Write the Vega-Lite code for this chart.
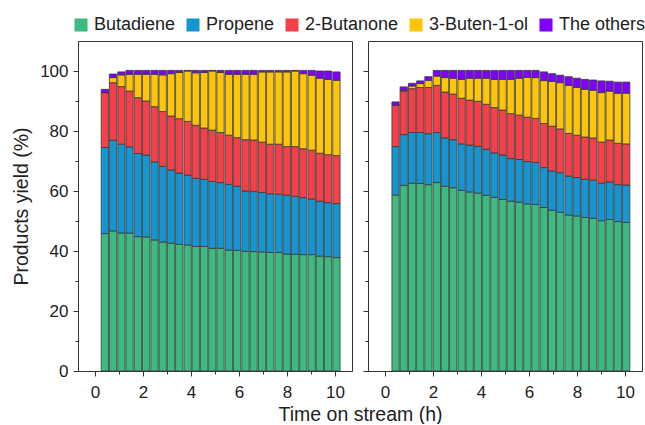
{
  "$schema": "https://vega.github.io/schema/vega-lite/v6.json",
  "padding": {"left": 10, "top": 15, "right": 3, "bottom": 0},
  "bounds": "flush",
  "spacing": 16,
  "resolve": {"legend": {"color": "independent"}},
  "config": {
    "font": "Liberation Sans",
    "view": {"stroke": "#333333", "strokeWidth": 1},
    "axis": {"domain": false, "grid": false, "tickColor": "#333333", "tickWidth": 1, "labelColor": "#222222", "labelFontSize": 17, "titleFontSize": 19.5, "titleFontWeight": "normal", "titleColor": "#222222"},
    "legend": {"title": null, "symbolType": "square", "symbolSize": 170, "symbolStrokeWidth": 0, "labelFontSize": 18, "labelColor": "#222222", "columnPadding": 8, "labelOffset": 4, "padding": 0}
  },
  "data": {"values": [
    {"panel": "a", "t": 0.41, "Butadiene": 45.8, "Propene": 28.7, "2-Butanone": 18.3, "3-Buten-1-ol": 0.0, "The others": 1.1},
    {"panel": "a", "t": 0.75, "Butadiene": 46.7, "Propene": 30.2, "2-Butanone": 19.2, "3-Buten-1-ol": 1.7, "The others": 1.2},
    {"panel": "a", "t": 1.10, "Butadiene": 46.0, "Propene": 29.6, "2-Butanone": 19.2, "3-Buten-1-ol": 3.9, "The others": 1.0},
    {"panel": "a", "t": 1.44, "Butadiene": 46.0, "Propene": 28.7, "2-Butanone": 18.6, "3-Buten-1-ol": 5.6, "The others": 1.3},
    {"panel": "a", "t": 1.79, "Butadiene": 44.8, "Propene": 27.7, "2-Butanone": 18.6, "3-Buten-1-ol": 7.8, "The others": 1.3},
    {"panel": "a", "t": 2.13, "Butadiene": 44.7, "Propene": 27.3, "2-Butanone": 18.0, "3-Buten-1-ol": 8.9, "The others": 1.3},
    {"panel": "a", "t": 2.48, "Butadiene": 43.7, "Propene": 26.0, "2-Butanone": 18.4, "3-Buten-1-ol": 10.8, "The others": 1.3},
    {"panel": "a", "t": 2.82, "Butadiene": 43.0, "Propene": 25.2, "2-Butanone": 18.3, "3-Buten-1-ol": 12.2, "The others": 1.5},
    {"panel": "a", "t": 3.17, "Butadiene": 42.6, "Propene": 24.4, "2-Butanone": 18.0, "3-Buten-1-ol": 14.1, "The others": 1.1},
    {"panel": "a", "t": 3.51, "Butadiene": 42.2, "Propene": 23.8, "2-Butanone": 18.1, "3-Buten-1-ol": 15.4, "The others": 0.7},
    {"panel": "a", "t": 3.86, "Butadiene": 42.0, "Propene": 23.3, "2-Butanone": 17.9, "3-Buten-1-ol": 16.8, "The others": 0.2},
    {"panel": "a", "t": 4.20, "Butadiene": 41.5, "Propene": 22.7, "2-Butanone": 17.7, "3-Buten-1-ol": 17.5, "The others": 0.8},
    {"panel": "a", "t": 4.55, "Butadiene": 41.5, "Propene": 22.4, "2-Butanone": 17.1, "3-Buten-1-ol": 18.5, "The others": 0.7},
    {"panel": "a", "t": 4.89, "Butadiene": 40.9, "Propene": 22.3, "2-Butanone": 17.1, "3-Buten-1-ol": 19.7, "The others": 0.2},
    {"panel": "a", "t": 5.23, "Butadiene": 40.9, "Propene": 21.9, "2-Butanone": 16.7, "3-Buten-1-ol": 20.0, "The others": 0.7},
    {"panel": "a", "t": 5.58, "Butadiene": 40.3, "Propene": 21.9, "2-Butanone": 16.4, "3-Buten-1-ol": 20.3, "The others": 1.3},
    {"panel": "a", "t": 5.92, "Butadiene": 40.2, "Propene": 21.4, "2-Butanone": 16.2, "3-Buten-1-ol": 21.1, "The others": 1.3},
    {"panel": "a", "t": 6.27, "Butadiene": 39.9, "Propene": 20.1, "2-Butanone": 17.1, "3-Buten-1-ol": 21.8, "The others": 1.3},
    {"panel": "a", "t": 6.61, "Butadiene": 39.8, "Propene": 20.0, "2-Butanone": 17.2, "3-Buten-1-ol": 21.9, "The others": 1.3},
    {"panel": "a", "t": 6.96, "Butadiene": 39.7, "Propene": 19.8, "2-Butanone": 16.8, "3-Buten-1-ol": 23.4, "The others": 0.5},
    {"panel": "a", "t": 7.30, "Butadiene": 39.5, "Propene": 19.6, "2-Butanone": 16.5, "3-Buten-1-ol": 24.1, "The others": 0.5},
    {"panel": "a", "t": 7.65, "Butadiene": 39.5, "Propene": 19.4, "2-Butanone": 16.7, "3-Buten-1-ol": 24.1, "The others": 0.5},
    {"panel": "a", "t": 7.99, "Butadiene": 39.0, "Propene": 19.6, "2-Butanone": 16.2, "3-Buten-1-ol": 24.9, "The others": 0.5},
    {"panel": "a", "t": 8.34, "Butadiene": 38.9, "Propene": 19.3, "2-Butanone": 16.6, "3-Buten-1-ol": 25.2, "The others": 0.2},
    {"panel": "a", "t": 8.68, "Butadiene": 38.8, "Propene": 19.0, "2-Butanone": 16.3, "3-Buten-1-ol": 25.0, "The others": 1.1},
    {"panel": "a", "t": 9.03, "Butadiene": 38.8, "Propene": 18.5, "2-Butanone": 16.3, "3-Buten-1-ol": 25.0, "The others": 1.6},
    {"panel": "a", "t": 9.37, "Butadiene": 38.3, "Propene": 18.3, "2-Butanone": 16.0, "3-Buten-1-ol": 25.0, "The others": 2.4},
    {"panel": "a", "t": 9.71, "Butadiene": 38.1, "Propene": 18.0, "2-Butanone": 16.0, "3-Buten-1-ol": 25.1, "The others": 2.8},
    {"panel": "a", "t": 10.06, "Butadiene": 37.8, "Propene": 18.0, "2-Butanone": 16.0, "3-Buten-1-ol": 25.1, "The others": 2.8},
    {"panel": "b", "t": 0.44, "Butadiene": 58.7, "Propene": 16.1, "2-Butanone": 13.8, "3-Buten-1-ol": 0.0, "The others": 1.1},
    {"panel": "b", "t": 0.78, "Butadiene": 61.9, "Propene": 16.9, "2-Butanone": 14.5, "3-Buten-1-ol": 0.3, "The others": 1.1},
    {"panel": "b", "t": 1.13, "Butadiene": 62.6, "Propene": 16.9, "2-Butanone": 14.6, "3-Buten-1-ol": 0.9, "The others": 0.9},
    {"panel": "b", "t": 1.47, "Butadiene": 62.5, "Propene": 17.0, "2-Butanone": 15.0, "3-Buten-1-ol": 1.3, "The others": 0.9},
    {"panel": "b", "t": 1.81, "Butadiene": 62.1, "Propene": 17.0, "2-Butanone": 15.4, "3-Buten-1-ol": 2.4, "The others": 1.2},
    {"panel": "b", "t": 2.16, "Butadiene": 62.8, "Propene": 16.7, "2-Butanone": 15.7, "3-Buten-1-ol": 3.1, "The others": 1.9},
    {"panel": "b", "t": 2.50, "Butadiene": 61.6, "Propene": 16.1, "2-Butanone": 15.3, "3-Buten-1-ol": 4.8, "The others": 2.4},
    {"panel": "b", "t": 2.84, "Butadiene": 61.1, "Propene": 16.0, "2-Butanone": 15.2, "3-Buten-1-ol": 5.3, "The others": 2.6},
    {"panel": "b", "t": 3.19, "Butadiene": 60.2, "Propene": 15.5, "2-Butanone": 15.2, "3-Buten-1-ol": 6.3, "The others": 3.0},
    {"panel": "b", "t": 3.53, "Butadiene": 59.7, "Propene": 15.6, "2-Butanone": 15.0, "3-Buten-1-ol": 7.3, "The others": 2.6},
    {"panel": "b", "t": 3.87, "Butadiene": 59.3, "Propene": 15.6, "2-Butanone": 15.0, "3-Buten-1-ol": 7.7, "The others": 2.6},
    {"panel": "b", "t": 4.22, "Butadiene": 58.6, "Propene": 15.3, "2-Butanone": 15.0, "3-Buten-1-ol": 8.7, "The others": 2.6},
    {"panel": "b", "t": 4.56, "Butadiene": 57.9, "Propene": 14.8, "2-Butanone": 15.1, "3-Buten-1-ol": 9.4, "The others": 3.0},
    {"panel": "b", "t": 4.90, "Butadiene": 57.2, "Propene": 14.8, "2-Butanone": 15.0, "3-Buten-1-ol": 10.2, "The others": 3.0},
    {"panel": "b", "t": 5.24, "Butadiene": 56.6, "Propene": 14.2, "2-Butanone": 15.0, "3-Buten-1-ol": 11.4, "The others": 3.0},
    {"panel": "b", "t": 5.59, "Butadiene": 56.3, "Propene": 14.2, "2-Butanone": 14.8, "3-Buten-1-ol": 12.3, "The others": 2.6},
    {"panel": "b", "t": 5.93, "Butadiene": 55.7, "Propene": 14.1, "2-Butanone": 14.8, "3-Buten-1-ol": 13.3, "The others": 2.3},
    {"panel": "b", "t": 6.27, "Butadiene": 55.5, "Propene": 14.0, "2-Butanone": 14.7, "3-Buten-1-ol": 13.6, "The others": 2.4},
    {"panel": "b", "t": 6.62, "Butadiene": 54.5, "Propene": 13.3, "2-Butanone": 14.7, "3-Buten-1-ol": 14.3, "The others": 2.9},
    {"panel": "b", "t": 6.96, "Butadiene": 53.6, "Propene": 13.1, "2-Butanone": 14.9, "3-Buten-1-ol": 14.9, "The others": 2.6},
    {"panel": "b", "t": 7.30, "Butadiene": 52.9, "Propene": 13.2, "2-Butanone": 14.6, "3-Buten-1-ol": 15.4, "The others": 2.5},
    {"panel": "b", "t": 7.65, "Butadiene": 52.0, "Propene": 13.0, "2-Butanone": 14.2, "3-Buten-1-ol": 16.0, "The others": 2.9},
    {"panel": "b", "t": 7.99, "Butadiene": 51.7, "Propene": 12.8, "2-Butanone": 14.1, "3-Buten-1-ol": 15.9, "The others": 3.1},
    {"panel": "b", "t": 8.33, "Butadiene": 51.2, "Propene": 12.7, "2-Butanone": 14.1, "3-Buten-1-ol": 15.9, "The others": 3.3},
    {"panel": "b", "t": 8.67, "Butadiene": 50.9, "Propene": 12.7, "2-Butanone": 14.1, "3-Buten-1-ol": 15.9, "The others": 3.4},
    {"panel": "b", "t": 9.02, "Butadiene": 50.1, "Propene": 12.5, "2-Butanone": 13.7, "3-Buten-1-ol": 16.5, "The others": 3.9},
    {"panel": "b", "t": 9.36, "Butadiene": 50.5, "Propene": 12.5, "2-Butanone": 14.0, "3-Buten-1-ol": 16.3, "The others": 3.3},
    {"panel": "b", "t": 9.70, "Butadiene": 49.8, "Propene": 12.3, "2-Butanone": 13.8, "3-Buten-1-ol": 16.7, "The others": 3.7},
    {"panel": "b", "t": 10.05, "Butadiene": 49.5, "Propene": 12.5, "2-Butanone": 13.7, "3-Buten-1-ol": 16.9, "The others": 3.7}
  ]},
  "transform": [
    {"fold": ["Butadiene", "Propene", "2-Butanone", "3-Buten-1-ol", "The others"], "as": ["product", "yield"]},
    {"lookup": "product", "from": {"data": {"values": [
      {"product": "Butadiene", "rank": 1},
      {"product": "Propene", "rank": 2},
      {"product": "2-Butanone", "rank": 3},
      {"product": "3-Buten-1-ol", "rank": 4},
      {"product": "The others", "rank": 5}
    ]}, "key": "product", "fields": ["rank"]}}
  ],
  "hconcat": [
    {
      "width": 274,
      "height": 330,
      "transform": [{"filter": "datum.panel === 'a'"}],
      "mark": {"type": "bar", "width": 7.3, "stroke": "#3a3a3a", "strokeWidth": 0.8},
      "encoding": {
        "x": {"field": "t", "type": "quantitative", "scale": {"domain": [-0.5, 10.5], "nice": false, "zero": false},
          "axis": {"title": "Time on stream (h)", "titleX": 282, "titleY": 49, "titleBaseline": "alphabetic", "titleAlign": "center", "values": [0, 1, 2, 3, 4, 5, 6, 7, 8, 9, 10], "labelExpr": "datum.value % 2 === 0 ? datum.label : ''", "tickSize": {"condition": {"test": "datum.value % 2 === 0", "value": 5}, "value": 3}, "labelPadding": 8, "labelFlush": false}},
        "y": {"field": "yield", "type": "quantitative", "stack": "zero", "scale": {"domain": [0, 110], "nice": false},
          "axis": {"title": "Products yield (%)", "titleX": -57, "titleBaseline": "middle", "values": [0, 10, 20, 30, 40, 50, 60, 70, 80, 90, 100], "labelExpr": "datum.value % 20 === 0 ? datum.label : ''", "tickSize": {"condition": {"test": "datum.value % 20 === 0", "value": 5}, "value": 3}, "labelPadding": 5}},
        "color": {"field": "product", "type": "nominal",
          "scale": {"domain": ["Butadiene", "Propene", "2-Butanone", "3-Buten-1-ol", "The others"], "range": ["#3dba80", "#1596d2", "#f5404a", "#ffc50a", "#7f00ff"]},
          "legend": {"orient": "none", "direction": "horizontal", "legendX": -6, "legendY": -25}},
        "order": {"field": "rank", "type": "quantitative", "sort": "ascending"}
      }
    },
    {
      "width": 274,
      "height": 330,
      "transform": [{"filter": "datum.panel === 'b'"}],
      "mark": {"type": "bar", "width": 7.3, "stroke": "#3a3a3a", "strokeWidth": 0.8},
      "encoding": {
        "x": {"field": "t", "type": "quantitative", "scale": {"domain": [-0.5, 10.5], "nice": false, "zero": false},
          "axis": {"title": null, "values": [0, 1, 2, 3, 4, 5, 6, 7, 8, 9, 10], "labelExpr": "datum.value % 2 === 0 ? datum.label : ''", "tickSize": {"condition": {"test": "datum.value % 2 === 0", "value": 5}, "value": 3}, "labelPadding": 8, "labelFlush": false}},
        "y": {"field": "yield", "type": "quantitative", "stack": "zero", "scale": {"domain": [0, 110], "nice": false},
          "axis": {"title": null, "labels": false, "values": [0, 10, 20, 30, 40, 50, 60, 70, 80, 90, 100], "tickSize": {"condition": {"test": "datum.value % 20 === 0", "value": 5}, "value": 3}}},
        "color": {"field": "product", "type": "nominal",
          "scale": {"domain": ["Butadiene", "Propene", "2-Butanone", "3-Buten-1-ol", "The others"], "range": ["#3dba80", "#1596d2", "#f5404a", "#ffc50a", "#7f00ff"]},
          "legend": null},
        "order": {"field": "rank", "type": "quantitative", "sort": "ascending"}
      }
    }
  ]
}
